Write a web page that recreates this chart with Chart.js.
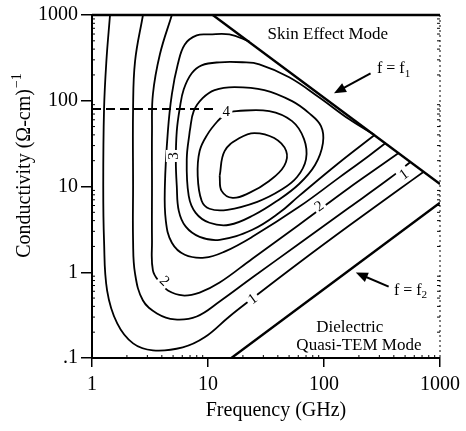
<!DOCTYPE html>
<html>
<head>
<meta charset="utf-8">
<script src="https://cdn.jsdelivr.net/npm/chart.js@4.4.1/dist/chart.umd.min.js"></script>
<style>
html, body { margin: 0; padding: 0; background: #fff; }
</style>
</head>
<body>
<canvas id="chart" width="466" height="431"></canvas>
<script>
// axis ticks
const xTicks = [1, 10, 100, 1000];
const xTickLabels = ['1', '10', '100', '1000'];
const yTicks = [0.1, 1, 10, 100, 1000];
const yTickLabels = ['.1', '1', '10', '100', '1000'];

// mode boundaries, [frequency GHz, conductivity]
const lineF1 = [[11, 1000], [1000, 10.7]];
const lineF2 = [[15.9, 0.1], [1000, 6.45]];
const dashedLine = [[1, 80], [12.1, 80]];

// contours, outermost first
const contour1 = [[1.43,1000],[1.33,288],[1.27,79.8],[1.25,10.2],[1.27,2.33],[1.35,0.612],[1.65,0.253],[2.26,0.148],[3.35,0.123],[6.06,0.133],[9.35,0.174],[15.3,0.305],[24.1,0.494],[61,1.29],[164,3.48],[440,9.14],[719,14.8]];
const contour2 = [[2.75,1000],[2.35,288],[2.26,79.8],[2.26,10.2],[2.26,2.33],[2.35,0.964],[2.75,0.469],[3.63,0.331],[5.17,0.282],[7.99,0.305],[12.6,0.456],[24.1,0.867],[61,2.15],[164,5.64],[361,12.2],[556,19.3]];
const contour3 = [[4.88,1000],[3.85,348],[3.35,119],[3.29,44.3],[3.29,10.2],[3.29,2.33],[3.35,1.05],[3.85,0.758],[4.51,0.612],[6.06,0.536],[8.47,0.58],[12.6,0.758],[24.1,1.44],[61,3.58],[164,9.63],[296,16.9],[440,24.6]];
const contour4 = [[22.7,492],[15.3,593],[10.3,593],[7.99,578],[6.31,454],[5.49,266],[4.88,119],[4.51,44.3],[4.25,10.2],[4.33,3.98],[4.88,2.21],[6.31,1.6],[9.35,1.48],[13.9,1.74],[24.1,2.59],[61,5.79],[134,12.6],[243,22.7],[340,32.1]];
const contour5 = [[273,39.8],[164,61.1],[90.5,110],[50.1,188],[27.7,266],[19.8,281],[12.6,281],[8.81,259],[7.24,209],[6.18,136],[5.71,81.9],[5.38,44.3],[5.28,19.9],[5.38,10.2],[5.6,5.2],[6.43,3.4],[8.47,2.59],[12.6,2.39],[24.1,3.13],[41.1,4.93],[61,7.78],[134,18.8],[273,39.8]];
const contour6 = [[6.96,44.3],[6.56,20.9],[6.82,7.78],[7.83,4.93],[10.3,3.78],[15.3,3.58],[25.1,4.68],[39.5,6.81],[61,10.7],[83.7,17.8],[97.9,32.1],[94.2,50.6],[74.3,71.7],[53.1,98.9],[30.6,133],[16.9,144],[11.4,133],[8.99,107],[7.53,75.7],[6.96,44.3]];
const contour7 = [[14.4,71.7],[17.6,75.7],[33.7,75.7],[53.1,57.8],[67.3,35.7],[70,20.9],[58.6,12.9],[42.8,9.14],[26.6,6.62],[14.7,5.35],[10.3,5.5],[8.81,6.81],[8.15,13.3],[8.47,25.9],[9.93,40.8],[12.1,57.8],[14.4,71.7]];
const contour8 = [[12.6,13.3],[13.9,25.9],[18.7,36.7],[25.1,42],[37.2,36.7],[47.2,25.9],[45.4,17.4],[33.7,11.6],[22.7,8.43],[16.3,7.38],[13.1,8.89],[12.6,13.3]];
const contours = [contour1, contour2, contour3, contour4, contour5, contour6, contour7, contour8];

// contour labels
const labelText = ['1', '1', '2', '2', '3', '4'];
const labelAt = [[24.1,0.494],[485,14],[4.25,0.8],[90.5,5.96],[4.98,22.7],[14.4,75.7]];
const labelRot = [-36, -36, 45, -36, -90, 0];

const toPts = arr => arr.map(([x, y]) => ({x, y}));

function lineSet(arr, width, dash){
	return {
		data: toPts(arr),
		showLine: true,
		borderColor: '#000',
		borderWidth: width,
		borderDash: dash || [],
		pointRadius: 0,
		tension: 0,
		fill: false,
	};
}

const datasets = [
	lineSet(lineF1, 2.4),
	lineSet(lineF2, 2.4),
	lineSet(dashedLine, 2, [9, 5]),
];
contours.forEach(c => {
	const ds = lineSet(c, 1.8);
	ds.tension = 0.4;
	datasets.push(ds);
});

const serif = '"Liberation Serif", "DejaVu Serif", serif';

function arrow(ctx, x1, y1, x2, y2){
	const a = Math.atan2(y2 - y1, x2 - x1);
	ctx.beginPath();
	ctx.moveTo(x1, y1);
	ctx.lineTo(x2 - 8 * Math.cos(a), y2 - 8 * Math.sin(a));
	ctx.lineWidth = 2;
	ctx.stroke();
	ctx.beginPath();
	ctx.moveTo(x2, y2);
	ctx.lineTo(x2 - 12 * Math.cos(a) + 5 * Math.sin(a), y2 - 12 * Math.sin(a) - 5 * Math.cos(a));
	ctx.lineTo(x2 - 12 * Math.cos(a) - 5 * Math.sin(a), y2 - 12 * Math.sin(a) + 5 * Math.cos(a));
	ctx.closePath();
	ctx.fill();
}

function subText(ctx, main, sub, cx, cy, size){
	ctx.font = size + 'px ' + serif;
	const w1 = ctx.measureText(main).width;
	ctx.font = (size * 0.7) + 'px ' + serif;
	const w2 = ctx.measureText(sub).width;
	let x = cx - (w1 + w2) / 2;
	ctx.textAlign = 'left';
	ctx.textBaseline = 'middle';
	ctx.font = size + 'px ' + serif;
	ctx.fillText(main, x, cy);
	ctx.font = (size * 0.7) + 'px ' + serif;
	ctx.fillText(sub, x + w1, cy + size * 0.3);
}

const decor = {
	id: 'decor',
	afterDatasetsDraw(chart){
		const ctx = chart.ctx;
		const xs = chart.scales.x, ys = chart.scales.y;
		const a = chart.chartArea;
		const px = v => xs.getPixelForValue(v);
		const py = v => ys.getPixelForValue(v);
		ctx.save();
		ctx.strokeStyle = '#000';
		ctx.fillStyle = '#000';

		// frame top and right
		ctx.lineWidth = 2.5;
		ctx.beginPath();
		ctx.moveTo(a.left, a.top);
		ctx.lineTo(a.right, a.top);
		ctx.stroke();
		ctx.lineWidth = 1;
		ctx.setLineDash([2, 3]);
		ctx.beginPath();
		ctx.moveTo(a.right, a.top);
		ctx.lineTo(a.right, a.bottom);
		ctx.stroke();
		ctx.setLineDash([]);

		// minor ticks
		ctx.lineWidth = 1;
		for(let d = 0.1; d < 1000; d *= 10){
			for(let k = 2; k < 10; k++){
				const y = py(d * k);
				ctx.beginPath();
				ctx.moveTo(a.left, y); ctx.lineTo(a.left + 3, y);
				ctx.moveTo(a.right, y); ctx.lineTo(a.right - 3, y);
				ctx.stroke();
			}
		}
		for(let d = 1; d < 1000; d *= 10){
			for(let k = 2; k < 10; k++){
				const x = px(d * k);
				ctx.beginPath();
				ctx.moveTo(x, a.bottom); ctx.lineTo(x, a.bottom - 3);
				ctx.stroke();
			}
		}

		// contour labels
		ctx.font = '15px ' + serif;
		ctx.textAlign = 'center';
		ctx.textBaseline = 'middle';
		labelText.forEach((t, i) => {
			ctx.save();
			ctx.translate(px(labelAt[i][0]), py(labelAt[i][1]));
			ctx.rotate(labelRot[i] * Math.PI / 180);
			ctx.fillStyle = '#fff';
			ctx.fillRect(-6, -7, 12, 14);
			ctx.fillStyle = '#000';
			ctx.fillText(t, 0, 1);
			ctx.restore();
		});

		// region texts
		ctx.font = '17px ' + serif;
		ctx.fillText('Skin Effect Mode', px(108), py(593));
		ctx.fillText('Dielectric', px(167), py(0.227));
		ctx.fillText('Quasi-TEM Mode', px(200), py(0.141));
		subText(ctx, 'f = f', '1', px(398), py(233), 16);
		subText(ctx, 'f = f', '2', px(557), py(0.612), 16);
		arrow(ctx, px(252), py(209), px(122), py(122));
		arrow(ctx, px(361), py(0.68), px(188), py(0.99));

		// axis titles
		ctx.font = '20px ' + serif;
		ctx.textAlign = 'center';
		ctx.textBaseline = 'middle';
		ctx.fillText('Frequency (GHz)', 276, 411);
		ctx.save();
		ctx.translate(25, 166);
		ctx.rotate(-Math.PI / 2);
		const main = 'Conductivity (\u03A9-cm)';
		const w1 = ctx.measureText(main).width;
		ctx.font = '14px ' + serif;
		const w2 = ctx.measureText('\u22121').width;
		ctx.textAlign = 'left';
		ctx.font = '20px ' + serif;
		ctx.fillText(main, -(w1 + w2) / 2, 0);
		ctx.font = '14px ' + serif;
		ctx.fillText('\u22121', -(w1 + w2) / 2 + w1 + 1, -8);
		ctx.restore();

		ctx.restore();
	}
};

new Chart(document.getElementById('chart'), {
	type: 'scatter',
	data: { datasets },
	options: {
		responsive: false,
		animation: false,
		devicePixelRatio: 1,
		layout: { padding: { top: 13, right: 24, left: 0, bottom: 0 } },
		plugins: { legend: { display: false }, tooltip: { enabled: false } },
		scales: {
			x: {
				type: 'logarithmic',
				min: 1,
				max: 1000,
				afterBuildTicks: s => { s.ticks = xTicks.map(v => ({value: v})); },
				afterFit: s => { s.height = 73; },
				ticks: {
					color: '#000',
					font: { family: serif, size: 20 },
					padding: 6,
					maxRotation: 0,
					callback: (v, i) => xTickLabels[i],
				},
				grid: { drawOnChartArea: false, tickLength: 9, color: '#000', lineWidth: 1.5 },
				border: { color: '#000', width: 2 },
			},
			y: {
				type: 'logarithmic',
				min: 0.1,
				max: 1000,
				afterBuildTicks: s => { s.ticks = yTicks.map(v => ({value: v})); },
				afterFit: s => { s.width = 92; },
				ticks: {
					color: '#000',
					font: { family: serif, size: 20 },
					padding: 3,
					callback: (v, i) => yTickLabels[i],
				},
				grid: { drawOnChartArea: false, tickLength: 11, color: '#000', lineWidth: 1.5 },
				border: { color: '#000', width: 2 },
			},
		},
	},
	plugins: [decor],
});
</script>
</body>
</html>
